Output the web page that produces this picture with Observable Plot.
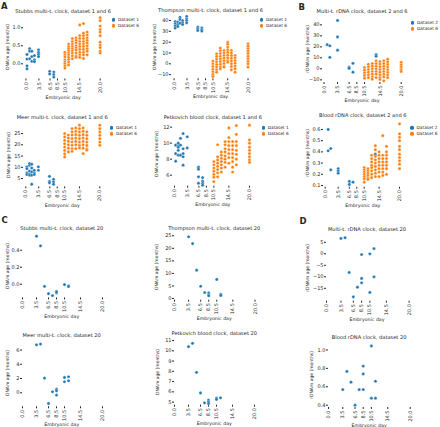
<!DOCTYPE html>
<html><head><meta charset="utf-8">
<script src="https://cdn.jsdelivr.net/npm/d3@7"></script>
<script src="https://cdn.jsdelivr.net/npm/@observablehq/plot@0.6"></script>
<style>
body{margin:0;background:#fff;}
#c{position:relative;width:440px;height:427px;overflow:hidden;font-family:"DejaVu Sans",sans-serif;color:#262626;}
.t{position:absolute;white-space:nowrap;transform:translate(-50%,-50%);line-height:1;}
.yl{position:absolute;white-space:nowrap;transform:translate(-50%,-50%) rotate(-90deg);line-height:1;font-size:4.5px;}
.lg{position:absolute;white-space:nowrap;font-size:4.3px;line-height:1;transform:translateY(-50%);}
.lg i{position:absolute;left:-6.2px;top:50%;width:3.4px;height:3.4px;border-radius:50%;margin-top:-1.7px;}
.letter{position:absolute;font-weight:bold;font-size:8.5px;line-height:1;}
</style></head><body><div id="c"></div><script>
const BLUE = "#1f77b4", ORANGE = "#ff7f0e";
const xTickVals = [0, 3.5, 6.5, 8.5, 10.5, 14.5, 20];

// Days of each sample group
const d1Days = [0.3, 1.0, 1.6, 2.3, 3.4, 6.4, 7.5];
const d2Days = [0.8, 1.5, 3.5, 6.5, 7.5, 13.5];
const d6Days = [10.5, 11.5, 12.5, 13.5, 14.5, 15.5, 16.5, 20];
const d20Days = [3.5, 4.5, 5.5, 6.5, 7.5, 8.5, 10.5, 11.5];

// Stubbs multi-tissue clock
const stubbsD1 = [[0.26,0.13,-0.06,-0.14],[0.42,0.35,0.14],[0.35,0.2,0.07],[0.23,0.11,0.06],[0.39,0.32,0.26,0.2],[-0.21,-0.28],[-0.23,-0.3,-0.37]];
const stubbsD6 = [
  [0.32,0.25,0.19,0.11,0.05,0.0,-0.06,-0.12],
  [0.55,0.48,0.42,0.36,0.3,0.25,0.18,0.12,0.05,-0.03],
  [0.7,0.62,0.55,0.48,0.42,0.36,0.3,0.22,0.14],
  [0.72,0.65,0.58,0.5,0.44,0.38,0.3,0.22,0.18],
  [1.08,0.78,0.7,0.62,0.55,0.48,0.4,0.32,0.25,0.18],
  [1.12,0.85,0.78,0.7,0.62,0.55,0.48,0.4,0.32,0.25,0.15],
  [0.88,0.8,0.72,0.65,0.58,0.5,0.42,0.35,0.25],
  [1.28,1.2,1.05,0.95,0.88,0.78,0.6,0.52,0.45,0.35,0.3]];
const stubbsD20 = [[0.565],[0.451],[-0.024],[-0.11],[-0.133],[-0.082,-0.102,-0.092],[-0.004],[-0.02,-0.025]];

// Thompson multi-tissue clock
const thompsonD1 = [[39,37,35,33],[38.5,36.3,34.5],[43,41,37.5],[40,38,36.3],[43.7,41.5,40,37.8],[33.8,32.3,30.8],[33.2,31.7,30.2]];
const thompsonD6 = [
  [2.5,0,-2.5,-5,-7.4,-9.8,-11.7],
  [9.2,6.8,4.3,1.8,-0.6,-3,-5.5,-7.7],
  [14.5,12,9.5,7,4.6,2,-0.5,-3,-4.6],
  [12.3,10,7.7,5.2,2.8,0.3,-2.2,-3],
  [20,18,15.5,13,10.5,8,5.5,3,1.5],
  [12.3,10,7.5,5,2.5,0,-2.5,-5.5],
  [7.7,5.5,3,0.5,-2,-4.5,-7.7],
  [18.5,16.3,14,11.7,9.5,7,4.6,2.2,0,-3]];
const thompsonD20 = [[24.6],[21.9],[11.3],[4.9],[2.4],[2.3,1.6,1.1],[7.6],[1.7,1.2]];

// Multi-tissue rDNA clock
const rdnaD2 = [[22],[21,10.5],[44,29,17],[1.5,0.5],[5,-3],[13,11.5]];
const rdnaD6 = [
  [1.2,-1.2,-3.6,-6,-8.5],
  [4.2,1.8,-0.6,-3,-5.5,-7.9],
  [4.8,2.4,0,-2.4,-4.8,-7.2,-9.4],
  [7.3,4.8,2.4,0,-2.4,-4.8,-7.9],
  [6.7,4.3,1.9,-0.6,-3,-5.5,-7.9,-9.7],
  [7.3,4.8,2.4,0,-2.4,-4.8,-7.3,-10.9],
  [8.8,6.4,4.0,1.6,-0.8,-3.2,-5.6,-7.9],
  [5.8,3.6,1.5,-0.6,-2.4]];
const rdnaD20 = [[6.7],[7.0],[-8.1],[-18.7],[-14.5],[-0.3,-10.7,-12.6],[0,-16.8],[2.3,-10]];

// Meer multi-tissue clock
const meerD1 = [[10.2,9.4,7.5,6.8],[10.9,11.7,8.3,7.0,6.5],[11.4,9.7,8.0,6.5,2.5],[8.7,7.5,6.8],[10.2,8.7],[6.0,3.8,3.1],[4.7,3.5,2.5]];
const meerD6 = [
  [25,23.5,22,20.5,19,17.5,16,14.6],
  [24.3,23,21.5,20,18.5,17,16.8],
  [27.2,25.8,24.3,22.8,21.3,19.8,18.3,17.1],
  [27.5,26,24.5,23,21.5,20,18.3],
  [28.7,27.2,25.7,24.2,22.7,21.2,19.7,18.6],
  [27.5,26,24.5,23,21.5,20,18.5,16.1],
  [25.7,24.2,22.7,21.2,19.7,18.2,17.6],
  [28.7,27.2,25.7,24.2,22.7,21.2,19.8]];
const meerD20 = [[6.74],[6.84],[2.06],[-1.5],[0.14],[0.5,0.28,-0.33],[2.15,1.55],[2.25,1.69]];

// Petkovich blood clock
const petkD1 = [[9.75,8.7,7.75],[9.8,9.1,8.5,10.0,9.5],[8.5,10.6,9.75],[8.7,7.25,11.2,9.3,8.3],[10.8,9.4],[7.0,6.75,5.8,5.0],[5.7,5.25,5.0,4.75]];
const petkD6 = [
  [7.7,7.3,6.9,6.5,6.1,5.75,5.2],
  [9.8,8.3,7.9,7.5,7.1,6.7,6.3,5.8],
  [8.9,8.5,8.1,7.7,7.3,6.9,6.4],
  [10.2,9.8,9.3,8.9,8.4,8.0,7.6,7.0],
  [11.9,10.7,10.2,9.7,9.2,8.7,8.2,7.5],
  [10.2,9.7,9.2,8.7,8.2,7.7,7.0,6.4],
  [12.2,11.1,10.2,9.7,9.1,8.6,8.0,7.3],
  [12.25,10.4,10.0,9.5,9.1,8.7,8.3,7.9,7.6]];
const petkD20 = [[10.4],[10.73],[7.9],[5.9],[4.93],[5.2,5.03,4.87],[5.39,5.26],[5.42]];

// Blood rDNA clock
const bloodD2 = [[0.6,0.41],[0.43,0.24],[0.25,0.23,0.21],[0.136,0.11],[0.13],[0.38]];
const bloodD6 = [
  [0.26,0.24,0.22,0.2,0.18,0.16,0.13],
  [0.25,0.23,0.21,0.19,0.17,0.155],
  [0.37,0.34,0.31,0.28,0.26,0.23,0.2,0.17],
  [0.455,0.42,0.36,0.33,0.3,0.27,0.24,0.21,0.18],
  [0.4,0.37,0.34,0.31,0.28,0.25,0.22,0.18],
  [0.545,0.37,0.34,0.31,0.28,0.25,0.22,0.19],
  [0.45,0.4,0.37,0.34,0.31,0.28,0.25,0.2],
  [0.65,0.56,0.53,0.5,0.45,0.42,0.38,0.35,0.32,0.29,0.25]];
const bloodD20 = [[0.57],[0.767],[0.65],[0.40],[0.57],[0.825,0.74,0.57],[1.044,0.476],[0.66,0.476]];

const panels = [
  {title:"Stubbs multi-t. clock, dataset 1 and 6", yl:"DNAm age (months)", box:[23.3,103,16,78.5], xd:[-0.65,20.81], yd:[-0.422,1.314], yt:[0,0.5,1], fmt:".1f",
   series:[["Dataset 1",BLUE,d1Days,stubbsD1],["Dataset 6",ORANGE,d6Days,stubbsD6]], leg:[118,19.7], ylx:8},
  {title:"Thompson multi-t. clock, dataset 1 and 6", yl:"DNAm age (months)", box:[170.7,250.4,15,78.3], xd:[-0.7,20.85], yd:[-13.8,44.6], yt:[-10,0,10,20,30,40], fmt:"d",
   series:[["Dataset 1",BLUE,d1Days,thompsonD1],["Dataset 6",ORANGE,d6Days,thompsonD6]], leg:[266,19.7], ylx:155},
  {title:"Multi-t. rDNA clock, dataset 2 and 6", yl:"rDNAm age (months)", box:[321.7,402.3,16.7,81.7], xd:[-0.4,20.5], yd:[-12.4,46.7], yt:[-10,0,10,20,30,40], fmt:"d",
   series:[["Dataset 2",BLUE,d2Days,rdnaD2],["Dataset 6",ORANGE,d6Days,rdnaD6]], leg:[417,22.7], ylx:307.7},
  {title:"Meer multi-t. clock, dataset 1 and 6", yl:"DNAm age (months)", box:[22.7,101.7,122.3,186.7], xd:[-0.62,20.73], yd:[1.3,29.9], yt:[5,10,15,20,25], fmt:"d",
   series:[["Dataset 1",BLUE,d1Days,meerD1],["Dataset 6",ORANGE,d6Days,meerD6]], leg:[116,127.7], ylx:9.3},
  {title:"Petkovich blood clock, dataset 1 and 6", yl:"DNAm age (months)", box:[172.3,253.3,122.3,186], xd:[-0.53,21.07], yd:[4.625,12.58], yt:[6,8,10,12], fmt:"d",
   series:[["Dataset 1",BLUE,d1Days,petkD1],["Dataset 6",ORANGE,d6Days,petkD6]], leg:[267.7,127.7], ylx:156.7},
  {title:"Blood rDNA clock, dataset 2 and 6", yl:"rDNAm age (months)", box:[323.3,402.3,120,186.7], xd:[-0.45,20.8], yd:[0.085,0.68], yt:[0.1,0.2,0.3,0.4,0.5,0.6], fmt:".1f",
   series:[["Dataset 2",BLUE,d2Days,bloodD2],["Dataset 6",ORANGE,d6Days,bloodD6]], leg:[416.5,127.7], ylx:308.3},
  {title:"Stubbs multi-t. clock, dataset 20", yl:"DNAm age (months)", box:[21.7,101.7,233.3,297.7], xd:[0,20], yd:[-0.16,0.596], yt:[0,0.2,0.4], fmt:".1f",
   series:[["Dataset 20",BLUE,d20Days,stubbsD20]], ylx:8.3},
  {title:"Thompson multi-t. clock, dataset 20", yl:"DNAm age (months)", box:[174,254.5,233.3,300], xd:[0,20], yd:[-0.66,25.9], yt:[0,5,10,15,20,25], fmt:"d",
   series:[["Dataset 20",BLUE,d20Days,thompsonD20]], ylx:156.7},
  {title:"Multi-t. rDNA clock, dataset 20", yl:"rDNAm age (months)", box:[325.7,408.3,234.3,301], xd:[0,20], yd:[-20.6,8.4], yt:[-15,-10,-5,0,5], fmt:"d",
   series:[["Dataset 20",BLUE,d20Days,rdnaD20]], ylx:308.3},
  {title:"Meer multi-t. clock, dataset 20", yl:"DNAm age (months)", box:[21.7,101.7,340.7,406], xd:[0,20], yd:[-1.97,7.2], yt:[0,2,4,6], fmt:"d",
   series:[["Dataset 20",BLUE,d20Days,meerD20]], ylx:8.3},
  {title:"Petkovich blood clock, dataset 20", yl:"DNAm age (months)", box:[174.3,254.3,338.3,405], xd:[0,20], yd:[4.7,11.2], yt:[5,6,7,8,9,10,11], fmt:"d",
   series:[["Dataset 20",BLUE,d20Days,petkD20]], ylx:158.3},
  {title:"Blood rDNA clock, dataset 20", yl:"rDNAm age (months)", box:[328.3,410,342.7,406.7], xd:[0,20], yd:[0.375,1.07], yt:[0.4,0.6,0.8,1.0], fmt:".1f",
   series:[["Dataset 20",BLUE,d20Days,bloodD20]], ylx:311.7}
];

const C = document.getElementById("c");
function addDiv(cls, text, x, y, extra) {
  const d = document.createElement("div");
  d.className = cls; d.textContent = text;
  d.style.left = x + "px"; d.style.top = y + "px";
  if (extra) Object.assign(d.style, extra);
  C.appendChild(d); return d;
}

for (const p of panels) {
  const [x0, x1, y0, y1] = p.box;
  const mL = 30, mR = 4, mT = 4, mB = 20;
  const marks = [
    Plot.axisX({ticks: xTickVals, tickFormat: d3.format(".1f"), tickRotate: -90, tickSize: 2, tickPadding: 1, label: null, line: true}),
    Plot.axisY({ticks: p.yt, tickFormat: d3.format(p.fmt), tickSize: 2, tickPadding: 1, label: null, line: true})
  ];
  for (const [name, color, days, cols] of p.series) {
    const rows = [];
    days.forEach((d, i) => cols[i].forEach(v => rows.push({day: d, age: v, set: name})));
    marks.push(Plot.dot(rows, {x: "day", y: "age", r: 1.6, fill: color, stroke: "white", strokeWidth: 0.35}));
  }
  const svg = Plot.plot({
    width: (x1 - x0) + mL + mR, height: (y1 - y0) + mT + mB,
    marginLeft: mL, marginRight: mR, marginTop: mT, marginBottom: mB,
    x: {domain: p.xd}, y: {domain: p.yd},
    style: {fontSize: "5px", fontFamily: "DejaVu Sans, sans-serif", background: "transparent", color: "#262626", overflow: "visible"},
    marks
  });
  svg.style.position = "absolute";
  svg.style.left = (x0 - mL) + "px";
  svg.style.top = (y0 - mT) + "px";
  C.appendChild(svg);
  const cx = (x0 + x1) / 2;
  addDiv("t", p.title, cx, y0 - 4.5, {fontSize: "5.1px"});
  addDiv("t", "Embryonic day", cx, y1 + 19, {fontSize: "4.7px"});
  addDiv("yl", p.yl, p.ylx, (y0 + y1) / 2);
  if (p.leg) {
    p.series.forEach(([name, color], i) => {
      const d = addDiv("lg", name, p.leg[0], p.leg[1] + i * 6);
      const dot = document.createElement("i"); dot.style.background = color; d.appendChild(dot);
    });
  }
}
addDiv("letter", "A", 1, 1.5);
addDiv("letter", "B", 298.5, 2.5);
addDiv("letter", "C", 1.5, 216);
addDiv("letter", "D", 299.5, 217);
</script></body></html>
